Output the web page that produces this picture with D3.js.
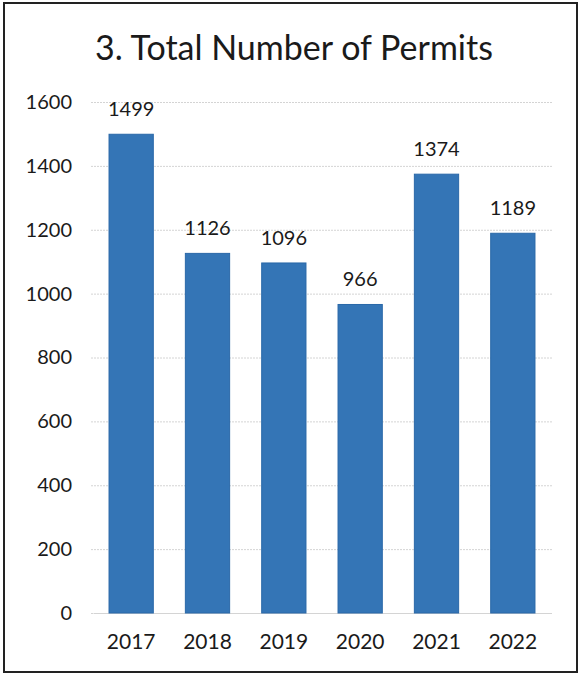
<!DOCTYPE html>
<html>
<head>
<meta charset="utf-8">
<script src="https://cdn.jsdelivr.net/npm/d3@7"></script>
<style>
  body { margin: 0; background: #fff; }
  svg text { font-family: Lato, "Open Sans", sans-serif; fill: #1a1a1a; }
</style>
</head>
<body>
<div id="chart"></div>
<script>
var years   = ["2017", "2018", "2019", "2020", "2021", "2022"];
var permits = [1499, 1126, 1096, 966, 1374, 1189];
var yTicks  = [0, 200, 400, 600, 800, 1000, 1200, 1400, 1600];

var width = 580, height = 676;
var margin = {top: 102, right: 29, bottom: 63, left: 93};

var svg = d3.select("#chart")
    .append("svg")
    .attr("width", width)
    .attr("height", height);

// frame around the scanned chart
svg.append("rect")
    .attr("x", 4).attr("y", 3)
    .attr("width", 573).attr("height", 669)
    .attr("fill", "none")
    .attr("stroke", "#222")
    .attr("stroke-width", 2);

svg.append("text")
    .attr("x", 294)
    .attr("y", 60)
    .attr("text-anchor", "middle")
    .style("font-size", "34px")
    .text("3. Total Number of Permits");

var x = d3.scaleBand()
    .domain(years)
    .range([margin.left, width - margin.right])
    .paddingInner(0.42)
    .paddingOuter(0.21);

var y = d3.scaleLinear()
    .domain([0, 1600])
    .range([height - margin.bottom, margin.top]);

var yAxis = d3.axisLeft(y)
    .tickValues(yTicks)
    .tickFormat(d3.format("d"))
    .tickSize(-(width - margin.right - margin.left + 4))
    .tickPadding(19);

var axisY = svg.append("g")
    .attr("class", "y axis")
    .attr("transform", "translate(" + (margin.left - 2) + ",0)")
    .call(yAxis);

axisY.select(".domain").remove();
axisY.selectAll("line")
    .attr("stroke", "#d4d4d4")
    .attr("stroke-dasharray", "2,1");
axisY.selectAll("text")
    .style("font-size", "20px");

var xAxis = d3.axisBottom(x).tickSize(0).tickPadding(21);

var axisX = svg.append("g")
    .attr("class", "x axis")
    .attr("transform", "translate(0," + (height - margin.bottom) + ")")
    .call(xAxis);

axisX.select(".domain").attr("stroke", "#d4d4d4");
axisX.selectAll("text").style("font-size", "21px");

var data = years.map(function(d, i) { return {year: d, value: permits[i]}; });

var bar = svg.selectAll(".bar-group")
    .data(data)
    .enter().append("g").attr("class", "bar-group");

bar.append("rect")
    .attr("class", "bar")
    .attr("x", function(d) { return x(d.year); })
    .attr("width", x.bandwidth())
    .attr("y", function(d) { return y(d.value); })
    .attr("height", function(d) { return y(0) - y(d.value); })
    .attr("fill", "#3475b6")
    .attr("stroke", "#2a68a8")
    .attr("stroke-width", 1);

bar.append("text")
    .attr("x", function(d) { return x(d.year) + x.bandwidth() / 2; })
    .attr("y", function(d) { return y(d.value) - 18; })
    .attr("text-anchor", "middle")
    .style("font-size", "20px")
    .text(function(d) { return d.value; });
</script>
</body>
</html>
